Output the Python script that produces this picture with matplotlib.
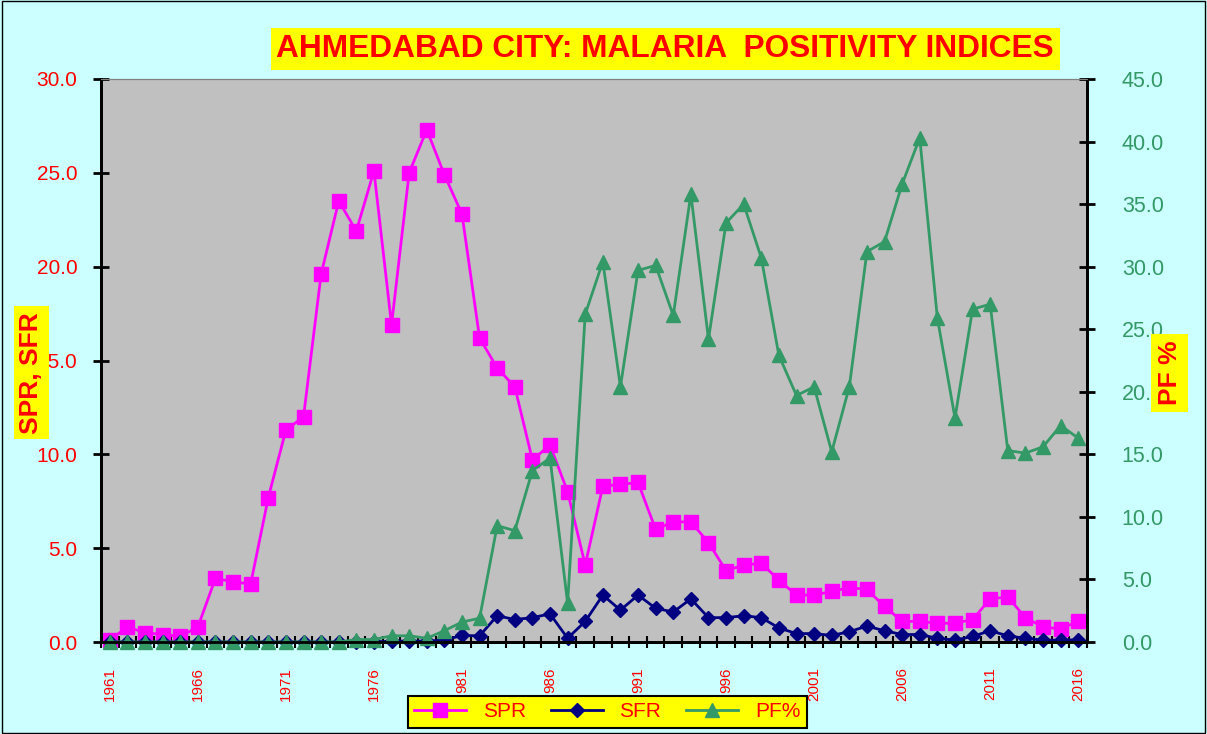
import numpy as np
import matplotlib
matplotlib.use("Agg")
import matplotlib.pyplot as plt
from matplotlib.patches import Rectangle

plt.rcParams['font.family'] = ['Liberation Sans', 'DejaVu Sans']

years = list(range(1961, 2017))

spr = [0.1, 0.8, 0.5, 0.4, 0.3, 0.8, 3.4, 3.2, 3.1, 7.7,
       11.3, 12.0, 19.6, 23.5, 21.9, 25.1, 16.9, 25.0, 27.3, 24.9,
       22.8, 16.2, 14.6, 13.6, 9.7, 10.5, 8.0, 4.1, 8.3, 8.4,
       8.5, 6.0, 6.4, 6.4, 5.3, 3.8, 4.1, 4.2, 3.3, 2.5,
       2.5, 2.7, 2.9, 2.8, 1.9, 1.1, 1.1, 1.0, 1.0, 1.2,
       2.3, 2.4, 1.3, 0.8, 0.7, 1.1]

sfr = [0.0, 0.0, 0.0, 0.0, 0.0, 0.0, 0.0, 0.0, 0.0, 0.0,
       0.0, 0.0, 0.0, 0.0, 0.0, 0.0, 0.05, 0.05, 0.05, 0.1,
       0.35, 0.33, 1.4, 1.2, 1.3, 1.5, 0.2, 1.1, 2.5, 1.7,
       2.5, 1.8, 1.6, 2.3, 1.3, 1.3, 1.4, 1.3, 0.75, 0.45,
       0.45, 0.35, 0.55, 0.85, 0.6, 0.4, 0.4, 0.2, 0.1, 0.3,
       0.6, 0.33, 0.2, 0.1, 0.1, 0.12]

pf = [0.0, 0.0, 0.0, 0.0, 0.0, 0.0, 0.0, 0.0, 0.0, 0.0,
      0.0, 0.0, 0.0, 0.0, 0.2, 0.2, 0.5, 0.5, 0.3, 0.9,
      1.6, 1.9, 9.3, 8.9, 13.7, 14.7, 3.1, 26.2, 30.4, 20.4,
      29.7, 30.1, 26.1, 35.8, 24.2, 33.5, 35.0, 30.7, 22.9, 19.7,
      20.4, 15.2, 20.4, 31.2, 32.0, 36.6, 40.3, 25.9, 17.9, 26.6,
      27.0, 15.3, 15.1, 15.6, 17.3, 16.3]

tick_years = [1961, 1966, 1971, 1976, 1981, 1986, 1991, 1996, 2001, 2006, 2011, 2016]
tick_text = ['1961', '1966', '1971', '1976', '981', '986', '991', '996', '2001', '2006', '2011', '2016']

fig = plt.figure(figsize=(12.07, 7.34), dpi=100, facecolor='#CCFFFF')
fig.patches.append(Rectangle((0.002, 0.002), 0.996, 0.996, transform=fig.transFigure,
                             fill=False, edgecolor='black', lw=1))
ax = fig.add_axes([0.0837, 0.1253, 0.8169, 0.7671])
ax.set_facecolor('#C0C0C0')

ax.plot(years, spr, color='#FF00FF', lw=2, marker='s', ms=10, label='SPR', clip_on=False)
ax.plot(years, sfr, color='#000080', lw=2, marker='D', ms=7, label='SFR', clip_on=False)

ax2 = ax.twinx()
ax2.plot(years, pf, color='#339966', lw=2, marker='^', ms=10, label='PF%', clip_on=False)

ax.set_xlim(1960.5, 2016.5)
ax.set_ylim(0, 30)
ax2.set_ylim(0, 45)

ax.set_yticks(np.arange(0, 31, 5))
ax.set_yticklabels(['%.1f' % v for v in np.arange(0, 31, 5)], color='red', fontsize=15)
ax2.set_yticks(np.arange(0, 46, 5))
ax2.set_yticklabels(['%.1f' % v for v in np.arange(0, 46, 5)], color='#339966', fontsize=15.5)

ax.set_xticks(tick_years)
ax.set_xticklabels(tick_text, rotation=90, color='red', fontsize=11)
ax.set_xticks(np.arange(1960.5, 2017, 1), minor=True)
ax.tick_params(axis='x', which='major', length=0, pad=18)
ax.tick_params(axis='x', which='minor', direction='inout', length=8, width=1.5)
ax.tick_params(axis='y', direction='inout', length=12, width=2, pad=11)
ax2.tick_params(axis='y', direction='inout', length=12, width=2, pad=19)

for a in (ax, ax2):
    a.spines['top'].set_color('#808080')
    a.spines['left'].set_linewidth(2)
    a.spines['right'].set_linewidth(2)
    a.spines['bottom'].set_linewidth(2)

fig.text(0.551, 0.933, 'AHMEDABAD CITY: MALARIA  POSITIVITY INDICES', color='red',
         fontsize=22.8, fontweight='bold', ha='center', va='center',
         bbox=dict(facecolor='yellow', edgecolor='none', pad=4))
fig.text(0.026, 0.492, 'SPR, SFR', color='red', fontsize=19, fontweight='bold',
         rotation=90, ha='center', va='center',
         bbox=dict(facecolor='yellow', edgecolor='none', pad=4))
fig.text(0.969, 0.492, 'PF %', color='red', fontsize=19, fontweight='bold',
         rotation=90, ha='center', va='center',
         bbox=dict(facecolor='yellow', edgecolor='none', pad=5))

h1, l1 = ax.get_legend_handles_labels()
h2, l2 = ax2.get_legend_handles_labels()
leg = fig.legend(h1 + h2, l1 + l2, loc='center', bbox_to_anchor=(0.503, 0.03), ncol=3,
                 fontsize=15, facecolor='yellow', edgecolor='black', fancybox=False,
                 framealpha=1, handlelength=2.5, columnspacing=1.2, borderpad=0.3)
leg.get_frame().set_linewidth(1.5)
for t in leg.get_texts():
    t.set_color('red')

fig.savefig('out.png', dpi=100, facecolor=fig.get_facecolor())
